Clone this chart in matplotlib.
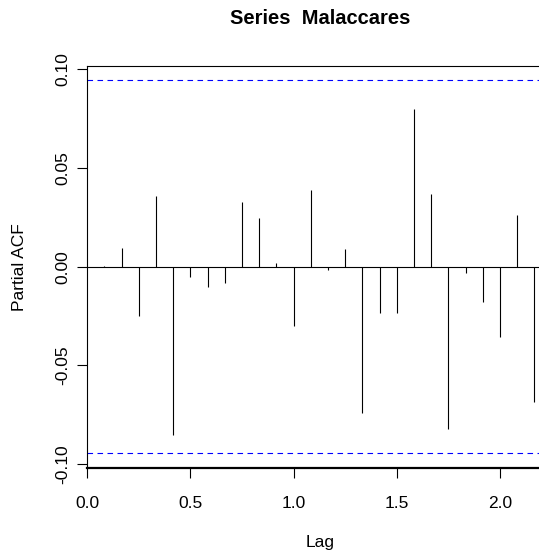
import matplotlib
matplotlib.use("Agg")
import matplotlib.pyplot as plt
import numpy as np

plt.rcParams['font.family'] = ['Liberation Sans', 'DejaVu Sans']

# Data
lag_index = list(range(1, 27))           # lags k/12
pacf_values = [0.0003, 0.0093, -0.0250, 0.0358, -0.0853, -0.0051, -0.0105, -0.0081,
               0.0326, 0.0245, 0.0019, -0.0299, 0.0387, -0.0019, 0.0088, -0.0743,
               -0.0235, -0.0235, 0.0797, 0.0370, -0.0824, -0.0034, -0.0181, -0.0355,
               0.0262, -0.0687]
conf_limit = 0.0945
x_ticks = [0.0, 0.5, 1.0, 1.5, 2.0]
x_tick_labels = ["0.0", "0.5", "1.0", "1.5", "2.0"]
y_ticks = [-0.10, -0.05, 0.00, 0.05, 0.10]
y_tick_labels = ["-0.10", "-0.05", "0.00", "0.05", "0.10"]
title = "Series  Malaccares"

W, H = 539, 555
fig = plt.figure(figsize=(W / 100, H / 100), dpi=100)

left_px, right_px = 87.3, 552.7
top_px, bot_px = 65.7, 468.3
ax = fig.add_axes([left_px / W, 1 - bot_px / H, (right_px - left_px) / W, (bot_px - top_px) / H])

lags = np.array(lag_index) / 12.0
ax.vlines(lags, 0, pacf_values, colors='black', linewidth=0.8)
ax.axhline(0, color='black', linewidth=0.8)
for c in (conf_limit, -conf_limit):
    ax.axhline(c, color='#0000ff', linewidth=0.8, linestyle=(0, (5, 4)))

ax.set_xlim(0, (right_px - left_px) / 206.3)
ax.set_ylim(-0.1021, 0.1018)

ax.set_xticks(x_ticks)
ax.set_xticklabels(x_tick_labels, fontsize=12.5)
ax.set_yticks(y_ticks)
ax.set_yticklabels(y_tick_labels, fontsize=12.5, rotation=90, va='center')
ax.tick_params(axis='x', length=7, width=0.8, pad=13, direction='out')
ax.tick_params(axis='y', length=7, width=0.8, pad=5, direction='out')

for s in ('left', 'top'):
    ax.spines[s].set_linewidth(0.8)
ax.spines['bottom'].set_linewidth(1.6)
ax.spines['right'].set_visible(False)

fig.text(320 / W, 1 - 19 / H, title, ha='center', va='center',
         fontsize=14.5, fontweight='bold')
fig.text(320 / W, 1 - 543 / H, "Lag", ha='center', va='center', fontsize=12.5)
fig.text(20 / W, 1 - 267 / H, "Partial ACF", ha='center', va='center',
         fontsize=12.5, rotation=90)

fig.savefig("out.png", dpi=100)
